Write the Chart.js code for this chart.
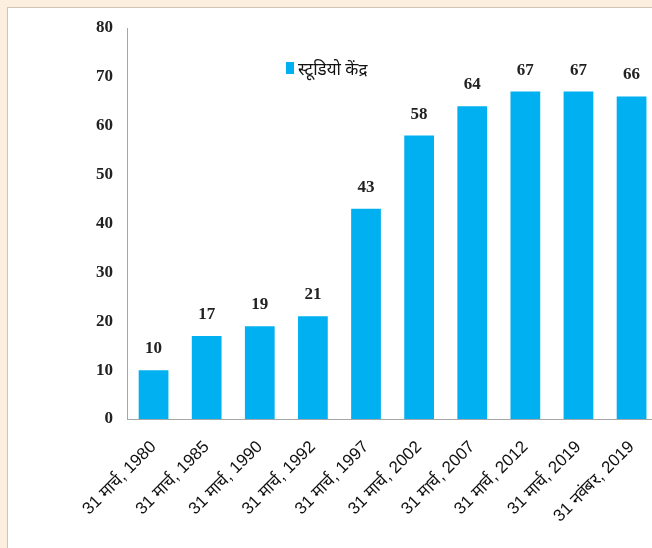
<!DOCTYPE html>
<html>
<head>
<meta charset="utf-8">
<script src="https://cdn.jsdelivr.net/npm/chart.js@4.4.1/dist/chart.umd.min.js"></script>
<style>
  html, body { margin: 0; padding: 0; overflow: hidden; }
  body { width: 652px; height: 548px; background: #fcefdf; position: relative; }
  #panel { position: absolute; left: 7px; top: 7px; width: 700px; height: 600px;
           background: #fff; border-left: 1px solid #d3c3b2; border-top: 1px solid #d3c3b2; }
  #wrap { position: absolute; left: 0; top: 0; width: 664px; height: 548px; }
</style>
</head>
<body>
<div id="panel"></div>
<div id="wrap"><canvas id="chart"></canvas></div>
<script>
const categories = [
  "31 मार्च, 1980", "31 मार्च, 1985", "31 मार्च, 1990", "31 मार्च, 1992", "31 मार्च, 1997",
  "31 मार्च, 2002", "31 मार्च, 2007", "31 मार्च, 2012", "31 मार्च, 2019", "31 नवंबर, 2019"
];
const studioCentres = [10, 17, 19, 21, 43, 58, 64, 67, 67, 66];
const seriesName = "स्टूडियो केंद्र";
const barColor = "#00b0f0";

// value labels above each bar
const valueLabels = {
  id: "valueLabels",
  afterDatasetsDraw(chart) {
    const ctx = chart.ctx;
    const meta = chart.getDatasetMeta(0);
    ctx.save();
    ctx.font = "bold 17px 'Liberation Serif'";
    ctx.fillStyle = "#222";
    ctx.textAlign = "center";
    ctx.textBaseline = "alphabetic";
    meta.data.forEach((bar, i) => {
      ctx.fillText(studioCentres[i], bar.x, bar.y - 17);
    });
    ctx.restore();
  }
};

// legend sits inside the plot, near the top
const innerLegend = {
  id: "innerLegend",
  afterDraw(chart) {
    const ctx = chart.ctx;
    ctx.save();
    ctx.fillStyle = barColor;
    ctx.fillRect(286, 62, 8, 12);
    ctx.fillStyle = "#111";
    ctx.font = "17px 'Noto Sans', sans-serif";
    ctx.textBaseline = "alphabetic";
    ctx.fillText(seriesName, 298, 75);
    ctx.restore();
  }
};

new Chart(document.getElementById("chart"), {
  type: "bar",
  data: {
    labels: categories,
    datasets: [{
      label: seriesName,
      data: studioCentres,
      backgroundColor: barColor,
      categoryPercentage: 1,
      barPercentage: 0.56
    }]
  },
  options: {
    responsive: true,
    maintainAspectRatio: false,
    animation: false,
    layout: { padding: { top: 28, left: 0, right: 0, bottom: 0 } },
    plugins: {
      legend: { display: false },
      tooltip: { enabled: false }
    },
    scales: {
      x: {
        grid: { display: false, drawTicks: false },
        border: { color: "#a6a6a6", width: 1 },
        ticks: {
          color: "#111",
          font: { family: "'Liberation Sans'", size: 17 },
          minRotation: 45,
          maxRotation: 45,
          padding: 18
        },
        afterFit(scale) { scale.height = 129; }
      },
      y: {
        min: 0,
        max: 80,
        grid: { display: false, drawTicks: false },
        border: { color: "#a6a6a6", width: 1 },
        ticks: {
          stepSize: 10,
          color: "#222",
          font: { family: "'Liberation Serif'", size: 17, weight: "bold" },
          padding: 14
        },
        afterFit(scale) { scale.width = 127; }
      }
    }
  },
  plugins: [valueLabels, innerLegend]
});
</script>
</body>
</html>
